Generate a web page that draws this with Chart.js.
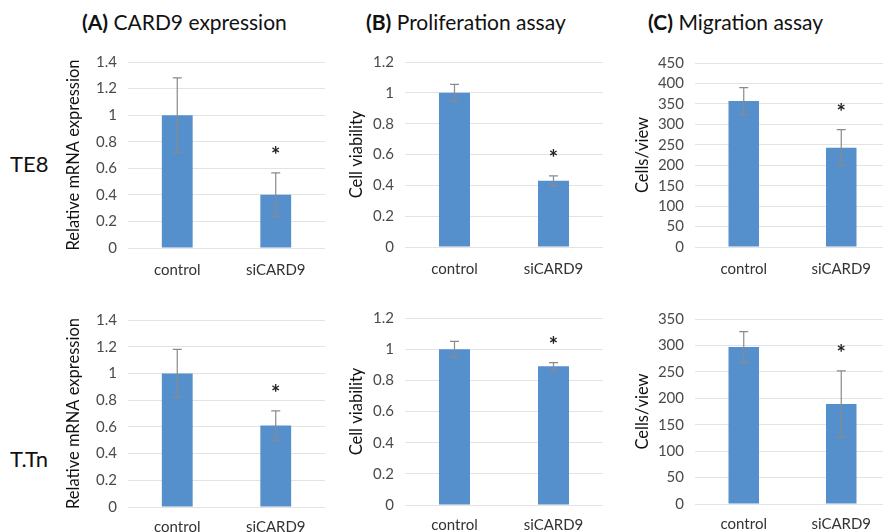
<!DOCTYPE html>
<html>
<head>
<meta charset="utf-8">
<script src="https://cdn.jsdelivr.net/npm/chart.js@4/dist/chart.umd.min.js"></script>
<style>
  html, body { margin: 0; padding: 0; background: #fff; overflow: hidden; }
  body { width: 883px; height: 532px; position: relative; font-family: Lato, "Open Sans", sans-serif; }
  canvas { position: absolute; }
  .ttl { position: absolute; font-size: 21px; color: #111; white-space: nowrap; }
  .ttl b { font-weight: 700; }
  .row { position: absolute; font-size: 22px; color: #111; }
</style>
</head>
<body>
<div class="ttl" style="left:82px;top:9px"><b>(A)</b> CARD9 expression</div>
<div class="ttl" style="left:366px;top:9px"><b>(B)</b> Proliferation assay</div>
<div class="ttl" style="left:648px;top:9px"><b>(C)</b> Migration assay</div>
<div class="row" style="left:10px;top:150px">TE8</div>
<div class="row" style="left:10px;top:445px">T.Tn</div>

<canvas id="a1"></canvas>
<canvas id="b1"></canvas>
<canvas id="c1"></canvas>
<canvas id="a2"></canvas>
<canvas id="b2"></canvas>
<canvas id="c2"></canvas>

<script>
// data
var groups = ["control", "siCARD9"];

var mrnaTE8 = [1.0, 0.40];
var mrnaTE8Err = [0.28, 0.165];
var viabTE8 = [1.0, 0.43];
var viabTE8Err = [0.055, 0.032];
var migrTE8 = [357, 243];
var migrTE8Err = [33, 44];

var mrnaTTn = [1.0, 0.61];
var mrnaTTnErr = [0.18, 0.11];
var viabTTn = [1.0, 0.89];
var viabTTnErr = [0.05, 0.023];
var migrTTn = [297, 189];
var migrTTnErr = [29, 63];

// which bars get the significance star
var starred = [false, true];

var blue = "#5590cd";
var gridGray = "#e3e3e3";
var tickGray = "#4a4a4a";

// draws error bars + asterisks from the dataset values
var errorBars = {
  id: "errorBars",
  afterDatasetsDraw: function(chart) {
    var ctx = chart.ctx;
    var ds = chart.data.datasets[0];
    var meta = chart.getDatasetMeta(0);
    var y = chart.scales.y;
    ctx.save();
    meta.data.forEach(function(bar, i) {
      var v = ds.data[i], e = ds.err[i];
      var yHi = y.getPixelForValue(v + e);
      var yLo = y.getPixelForValue(v - e);
      ctx.strokeStyle = "#8a8a8a";
      ctx.lineWidth = 1.2;
      ctx.beginPath();
      ctx.moveTo(bar.x, yHi); ctx.lineTo(bar.x, yLo);
      ctx.moveTo(bar.x - 4.5, yHi); ctx.lineTo(bar.x + 4.5, yHi);
      ctx.moveTo(bar.x - 4.5, yLo); ctx.lineTo(bar.x + 4.5, yLo);
      ctx.stroke();
      if (starred[i]) {
        ctx.fillStyle = "#222";
        ctx.font = "bold 22px Lato";
        ctx.textAlign = "center";
        ctx.textBaseline = "middle";
        ctx.fillText("*", bar.x, yHi - 17);
      }
    });
    ctx.restore();
  }
};

function makePanel(id, box, values, errs, yTitle, yMax, yStep, yWidth, xPad) {
  var cv = document.getElementById(id);
  cv.style.left = box.left + "px";
  cv.style.top = box.top + "px";
  cv.width = box.w;
  cv.height = box.h;
  cv.style.width = box.w + "px";
  cv.style.height = box.h + "px";

  return new Chart(cv, {
    type: "bar",
    data: {
      labels: groups,
      datasets: [{
        data: values,
        err: errs,
        backgroundColor: blue,
        categoryPercentage: 1.0,
        barPercentage: 0.313
      }]
    },
    options: {
      responsive: false,
      animation: false,
      layout: { padding: 0 },
      plugins: { legend: { display: false }, tooltip: { enabled: false } },
      scales: {
        x: {
          grid: { display: false },
          border: { display: false },
          ticks: { color: "#333", font: { family: "Lato", size: 15 }, padding: xPad },
          afterFit: function(s) { s.height = 32; }
        },
        y: {
          min: 0, max: yMax,
          grid: { color: gridGray, lineWidth: 1, drawTicks: false },
          border: { display: false },
          ticks: {
            stepSize: yStep, autoSkip: false, color: tickGray,
            font: { family: "Lato", size: 15 }, padding: 11,
            callback: function(v) { return String(Math.round(v * 10) / 10); }
          },
          title: { display: true, text: yTitle, color: "#111", font: { family: "Lato", size: 16.5 }, padding: { top: 4, bottom: 4 } },
          afterFit: function(s) { s.width = yWidth; }
        }
      }
    },
    plugins: [errorBars]
  });
}

makePanel("a1", { left: 60, top: 42, w: 265, h: 238 }, mrnaTE8, mrnaTE8Err, "Relative mRNA expression", 1.4, 0.2, 68, 5);
makePanel("b1", { left: 343, top: 42, w: 260, h: 237 }, viabTE8, viabTE8Err, "Cell viability", 1.2, 0.2, 62, 5);
makePanel("c1", { left: 629, top: 43, w: 261, h: 236 }, migrTE8, migrTE8Err, "Cells/view", 450, 50, 66, 5);

makePanel("a2", { left: 60, top: 300, w: 265, h: 239 }, mrnaTTn, mrnaTTnErr, "Relative mRNA expression", 1.4, 0.2, 68, 3);
makePanel("b2", { left: 343, top: 298, w: 260, h: 239 }, viabTTn, viabTTnErr, "Cell viability", 1.2, 0.2, 62, 3);
makePanel("c2", { left: 629, top: 299, w: 261, h: 237 }, migrTTn, migrTTnErr, "Cells/view", 350, 50, 66, 3);
</script>
</body>
</html>
